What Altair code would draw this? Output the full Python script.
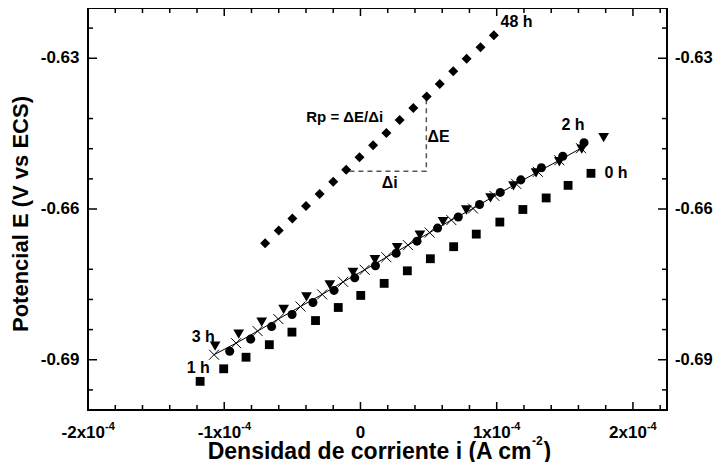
import altair as alt
import pandas as pd

FONT = "Liberation Sans"

# ---- data: current density i (A cm^-2) and potential E (V vs ECS) ----
i_0h = [-1.177e-4, -1.004e-4, -0.840e-4, -0.669e-4, -0.503e-4, -0.330e-4, -0.163e-4, 0.002e-4, 0.174e-4,
        0.344e-4, 0.513e-4, 0.684e-4, 0.850e-4, 1.023e-4, 1.192e-4, 1.363e-4, 1.524e-4, 1.692e-4]
E_0h = [-0.6943, -0.6918, -0.6895, -0.6870, -0.6845, -0.6822, -0.6796, -0.6772, -0.6748,
        -0.6723, -0.6699, -0.6675, -0.6650, -0.6626, -0.6601, -0.6578, -0.6553, -0.6529]

i_1h = [-1.075e-4, -0.913e-4, -0.755e-4, -0.603e-4, -0.440e-4, -0.281e-4, -0.127e-4, 0.031e-4, 0.190e-4,
        0.349e-4, 0.508e-4, 0.667e-4, 0.826e-4, 0.984e-4, 1.143e-4, 1.302e-4, 1.460e-4, 1.619e-4]
E_1h = [-0.6890, -0.6867, -0.6843, -0.6819, -0.6794, -0.6770, -0.6745, -0.6721, -0.6696,
        -0.6672, -0.6647, -0.6622, -0.6599, -0.6574, -0.6550, -0.6526, -0.6503, -0.6479]

i_2h = [-0.960e-4, -0.806e-4, -0.652e-4, -0.502e-4, -0.349e-4, -0.194e-4, -0.042e-4, 0.110e-4, 0.262e-4,
        0.415e-4, 0.566e-4, 0.718e-4, 0.874e-4, 1.026e-4, 1.177e-4, 1.328e-4, 1.485e-4, 1.641e-4]
E_2h = [-0.6883, -0.6859, -0.6834, -0.6810, -0.6786, -0.6762, -0.6737, -0.6713, -0.6688,
        -0.6664, -0.6638, -0.6616, -0.6591, -0.6567, -0.6542, -0.6518, -0.6495, -0.6468]

i_3h = [-1.067e-4, -0.894e-4, -0.725e-4, -0.564e-4, -0.396e-4, -0.225e-4, -0.055e-4, 0.106e-4, 0.269e-4,
        0.436e-4, 0.606e-4, 0.777e-4, 0.955e-4, 1.123e-4, 1.289e-4, 1.460e-4, 1.624e-4, 1.785e-4]
E_3h = [-0.6873, -0.6849, -0.6825, -0.6800, -0.6775, -0.6751, -0.6726, -0.6701, -0.6677,
        -0.6652, -0.6625, -0.6602, -0.6578, -0.6554, -0.6528, -0.6506, -0.6481, -0.6458]

i_48h = [-0.700e-4, -0.600e-4, -0.500e-4, -0.400e-4, -0.300e-4, -0.200e-4, -0.105e-4, -0.007e-4, 0.093e-4,
         0.190e-4, 0.288e-4, 0.388e-4, 0.486e-4, 0.582e-4, 0.681e-4, 0.779e-4, 0.881e-4, 0.979e-4]
E_48h = [-0.6668, -0.6643, -0.6619, -0.6594, -0.6570, -0.6546, -0.6522, -0.6497, -0.6473,
         -0.6449, -0.6423, -0.6399, -0.6376, -0.6351, -0.6326, -0.6301, -0.6278, -0.6254]

# Rp construction (dashed right triangle)
tri_i = [-0.081e-4, 0.4835e-4, 0.4835e-4]
tri_E = [-0.6525, -0.6525, -0.6383]

# annotations
ann_text = ["48 h", "2 h", "0 h", "3 h", "1 h", "Rp = ΔE/Δi", "ΔE", "Δi"]
ann_i = [1.028e-4, 1.475e-4, 1.791e-4, -1.239e-4, -1.276e-4, -0.398e-4, 0.492e-4, 0.156e-4]
ann_E = [-0.6238, -0.6443, -0.6539, -0.6864, -0.6927, -0.6426, -0.6466, -0.6559]
ann_fs = [16, 16, 16, 16, 16, 15, 16, 16]

# axes ticks / labels
x_major = [-2e-4, -1e-4, 0.0, 1e-4, 2e-4]
x_minor = [-1.8e-4, -1.6e-4, -1.4e-4, -1.2e-4, -0.8e-4, -0.6e-4, -0.4e-4, -0.2e-4,
           0.2e-4, 0.4e-4, 0.6e-4, 0.8e-4, 1.2e-4, 1.4e-4, 1.6e-4, 1.8e-4, 2.2e-4]
y_major = [-0.69, -0.66, -0.63]
y_minor = [-0.696, -0.684, -0.678, -0.672, -0.654, -0.648, -0.642, -0.624]
y_labels = ["-0.69", "-0.66", "-0.63"]
xneg_vals, xneg_base, xneg_exp = [-2e-4, -1e-4], ["-2x10", "-1x10"], ["-4", "-4"]
xpos_vals, xpos_base, xpos_exp = [1e-4, 2e-4], ["1x10", "2x10"], ["-4", "-4"]
y_title = "Potencial E (V vs ECS)"
x_title, x_title_sup, x_title_end = "Densidad de corriente i (A cm", "-2", ")"

XMIN, XMAX = -2.0e-4, 2.25e-4
YMIN, YMAX = -0.70, -0.62
xs = alt.Scale(domain=[XMIN, XMAX], nice=False, zero=False)
ys = alt.Scale(domain=[YMIN, YMAX], nice=False, zero=False)


def X(f):
    return alt.X(f, type="quantitative", scale=xs, axis=None)


def Y(f):
    return alt.Y(f, type="quantitative", scale=ys, axis=None)


def pts(iv, Ev, shape, size, filled=True, sw=1):
    df = pd.DataFrame({"i": iv, "E": Ev})
    return alt.Chart(df).mark_point(shape=shape, size=size, filled=filled, color="black",
                                    opacity=1, strokeWidth=sw).encode(x=X("i"), y=Y("E"))


tri = alt.Chart(pd.DataFrame({"i": tri_i, "E": tri_E, "k": [0, 1, 2]})).mark_line(
    color="#555555", strokeWidth=1.5, strokeDash=[5, 4]).encode(x=X("i"), y=Y("E"), order="k:Q")

line1h = alt.Chart(pd.DataFrame({"i": i_1h, "E": E_1h})).mark_line(
    color="black", strokeWidth=1).encode(x=X("i"), y=Y("E"), order="i:Q")

p0 = pts(i_0h, E_0h, "square", 78)
p1 = pts(i_1h, E_1h, "M-1,-1L1,1M1,-1L-1,1", 100, filled=False, sw=1)
p2 = pts(i_2h, E_2h, "circle", 82)
p3 = pts(i_3h, E_3h, "triangle-down", 115)
p48 = pts(i_48h, E_48h, "diamond", 100)


# inward ticks (edge stored as a column so that the rules use the shared scales)
def hticks(vals, length, edge, off):
    df = pd.DataFrame({"v": vals, "e": [edge] * len(vals)})
    return alt.Chart(df).mark_rule(color="black", strokeWidth=1.5, y2Offset=off * length).encode(
        x=X("v"), y=Y("e"), y2="e:Q")


def vticks(vals, length, edge, off):
    df = pd.DataFrame({"v": vals, "e": [edge] * len(vals)})
    return alt.Chart(df).mark_rule(color="black", strokeWidth=1.5, x2Offset=off * length).encode(
        y=Y("v"), x=X("e"), x2="e:Q")


ticks = [hticks(x_major, 8, YMIN, -1), hticks(x_minor, 5, YMIN, -1),
         hticks(x_major, 8, YMAX, 1), hticks(x_minor, 5, YMAX, 1),
         vticks(y_major, 9, XMIN, 1), vticks(y_minor, 5, XMIN, 1),
         vticks(y_major, 9, XMAX, -1), vticks(y_minor, 5, XMAX, -1)]

tx = dict(font=FONT, fontWeight="bold", color="black")

left_labels = alt.Chart(pd.DataFrame({"v": y_major, "t": y_labels, "e": [XMIN] * 3})).mark_text(
    align="right", baseline="middle", dx=-8.5, fontSize=17, **tx).encode(
    x=X("e"), y=Y("v"), text="t:N")

right_labels = alt.Chart(pd.DataFrame({"v": y_major, "t": y_labels, "e": [XMAX] * 3})).mark_text(
    align="left", baseline="middle", dx=8, fontSize=16.5, **tx).encode(
    x=X("e"), y=Y("v"), text="t:N")

ytitle = alt.Chart(pd.DataFrame({"e": [XMIN], "m": [-0.661], "t": [y_title]})).mark_text(
    angle=270, align="center", baseline="alphabetic", dy=-60, fontSize=22, **tx).encode(
    x=X("e"), y=Y("m"), text="t:N")


def xlabels(vals, base, exp, dx):
    df = pd.DataFrame({"v": vals, "b": base, "e": exp, "y": [YMIN] * len(vals)})
    b = alt.Chart(df).mark_text(align="right", baseline="alphabetic", dx=dx, dy=27.5,
                                fontSize=17, **tx).encode(x=X("v"), y=Y("y"), text="b:N")
    e = alt.Chart(df).mark_text(align="left", baseline="alphabetic", dx=dx, dy=19.6,
                                fontSize=11, **tx).encode(x=X("v"), y=Y("y"), text="e:N")
    return [b, e]


zero_label = alt.Chart(pd.DataFrame({"v": [0.0], "t": ["0"], "y": [YMIN]})).mark_text(
    align="center", baseline="alphabetic", dy=27.5, fontSize=17, **tx).encode(
    x=X("v"), y=Y("y"), text="t:N")

title_anchor = [1.2552e-4]
xt_main = alt.Chart(pd.DataFrame({"v": title_anchor, "t": [x_title], "y": [YMIN]})).mark_text(
    align="right", baseline="alphabetic", dy=48.5, fontSize=23, **tx).encode(
    x=X("v"), y=Y("y"), text="t:N")
xt_sup = alt.Chart(pd.DataFrame({"v": title_anchor, "t": [x_title_sup], "y": [YMIN]})).mark_text(
    align="left", baseline="alphabetic", dx=0.5, dy=34.5, fontSize=12, **tx).encode(
    x=X("v"), y=Y("y"), text="t:N")
xt_close = alt.Chart(pd.DataFrame({"v": title_anchor, "t": [x_title_end], "y": [YMIN]})).mark_text(
    align="left", baseline="alphabetic", dx=12, dy=48.5, fontSize=23, **tx).encode(
    x=X("v"), y=Y("y"), text="t:N")

ann = alt.Chart(pd.DataFrame({"i": ann_i, "E": ann_E, "t": ann_text, "fs": ann_fs})).mark_text(
    align="left", baseline="alphabetic", **tx).encode(
    x=X("i"), y=Y("E"), text="t:N", size=alt.Size("fs:Q", scale=None))

layers = [tri, line1h, p0, p2, p3, p1, p48] + ticks + [left_labels, right_labels, ytitle] + \
    xlabels(xneg_vals, xneg_base, xneg_exp, 17) + xlabels(xpos_vals, xpos_base, xpos_exp, 14) + \
    [zero_label, xt_main, xt_sup, xt_close, ann]

chart = alt.layer(*layers).properties(
    width=579, height=402,
    autosize=alt.AutoSizeParams(type="none"),
    padding={"left": 80, "top": 0, "right": 47, "bottom": 52},
    background="white",
).configure_view(stroke="black", strokeWidth=2)

chart.save("out.html", embed_options={"renderer": "svg", "actions": False})
